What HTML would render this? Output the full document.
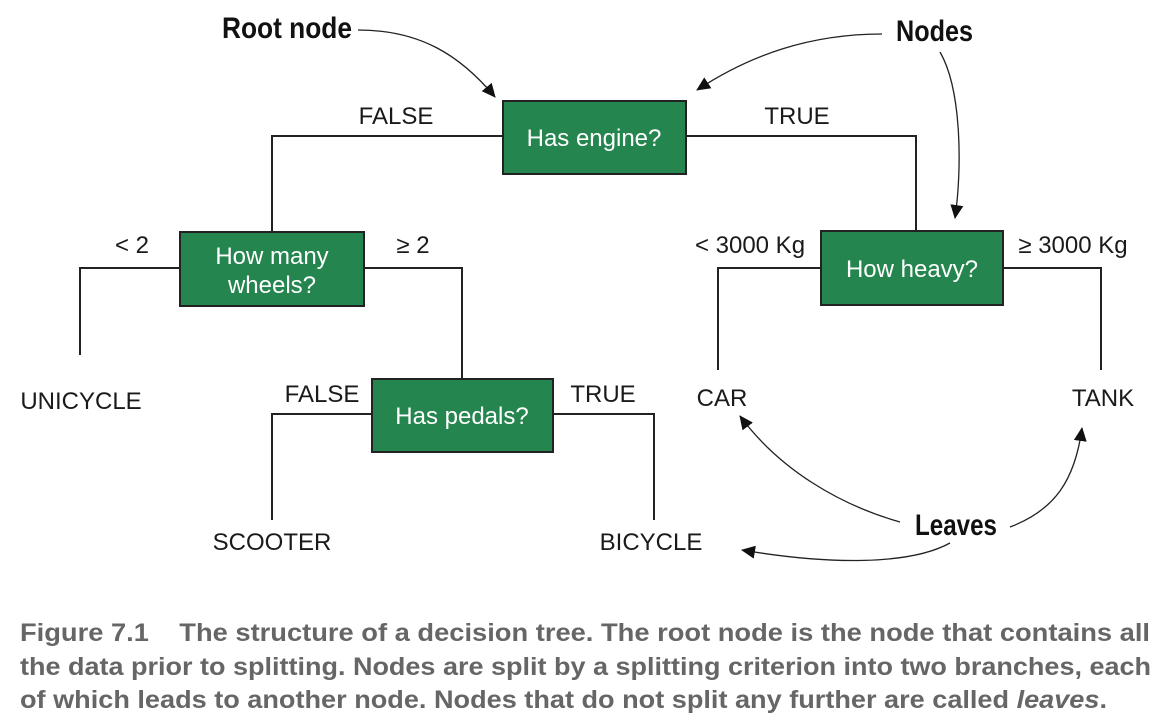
<!DOCTYPE html>
<html><head><meta charset="utf-8"><style>
html,body{margin:0;padding:0;background:#fff;}
svg{display:block;}
.l{font-family:"Liberation Sans",sans-serif;font-size:24px;fill:#1a1a1a;}
.b{font-family:"Liberation Sans",sans-serif;font-size:24px;fill:#fff;}
.a{font-family:"Liberation Sans Narrow","Liberation Sans",sans-serif;font-weight:bold;font-size:30px;fill:#111;}
.c{font-family:"Liberation Sans Narrow","Liberation Sans",sans-serif;font-weight:bold;font-size:25px;fill:#666;}
</style></head><body>
<svg width="1170" height="726" viewBox="0 0 1170 726" xmlns="http://www.w3.org/2000/svg">
<defs><marker id="ar" markerWidth="16" markerHeight="14" refX="13" refY="6.5" orient="auto" markerUnits="userSpaceOnUse"><path d="M0,0 L14,6.5 L0,13 Z" fill="#111"/></marker></defs>
<g fill="none" stroke="#222" stroke-width="2">
<path d="M503,136 H272 V232"/>
<path d="M686,136 H916 V231"/>
<path d="M180,268 H80 V355"/>
<path d="M364,268 H462 V379"/>
<path d="M372,414 H272 V520"/>
<path d="M553,414 H654 V520"/>
<path d="M820,268 H718 V370"/>
<path d="M1003,268 H1101 V370"/>
</g>
<g fill="#25854f" stroke="#222" stroke-width="2">
<rect x="503" y="101" width="183" height="73"/>
<rect x="180" y="232" width="184" height="74"/>
<rect x="372" y="379" width="181" height="73"/>
<rect x="821" y="231" width="182" height="74"/>
</g>
<g fill="none" stroke="#222" stroke-width="1.3" marker-end="url(#ar)">
<path d="M358,30 C420,30 460,55 495,97"/>
<path d="M882,34 C810,34 750,55 697,90"/>
<path d="M940,52 C962,90 962,170 955,218"/>
<path d="M900,522 C840,505 780,470 740,416"/>
<path d="M1010,527 C1055,510 1075,480 1082,428"/>
<path d="M950,543 C910,565 830,565 742,550"/>
</g>
<text class="b" x="594" y="146" text-anchor="middle">Has engine?</text>
<text class="b" x="272" y="264" text-anchor="middle">How many</text>
<text class="b" x="272" y="293" text-anchor="middle">wheels?</text>
<text class="b" x="462" y="424" text-anchor="middle">Has pedals?</text>
<text class="b" x="912" y="277" text-anchor="middle">How heavy?</text>
<text class="l" x="396" y="124" text-anchor="middle">FALSE</text>
<text class="l" x="797" y="124" text-anchor="middle">TRUE</text>
<text class="l" x="132" y="253" text-anchor="middle">&lt; 2</text>
<text class="l" x="413" y="253" text-anchor="middle">≥ 2</text>
<text class="l" x="750" y="253" text-anchor="middle">&lt; 3000 Kg</text>
<text class="l" x="1073" y="253" text-anchor="middle">≥ 3000 Kg</text>
<text class="l" x="322" y="402" text-anchor="middle">FALSE</text>
<text class="l" x="603" y="402" text-anchor="middle">TRUE</text>
<text class="l" x="81" y="409" text-anchor="middle">UNICYCLE</text>
<text class="l" x="722" y="406" text-anchor="middle">CAR</text>
<text class="l" x="1103" y="406" text-anchor="middle">TANK</text>
<text class="l" x="272" y="550" text-anchor="middle">SCOOTER</text>
<text class="l" x="651" y="550" text-anchor="middle">BICYCLE</text>
<text class="a" x="222" y="38" textLength="130" lengthAdjust="spacingAndGlyphs">Root node</text>
<text class="a" x="896" y="41" textLength="77" lengthAdjust="spacingAndGlyphs">Nodes</text>
<text class="a" x="915" y="535" textLength="82" lengthAdjust="spacingAndGlyphs">Leaves</text>
<text class="c" x="20" y="641" textLength="1130" lengthAdjust="spacingAndGlyphs">Figure 7.1&#160;&#160;&#160; The structure of a decision tree. The root node is the node that contains all</text>
<text class="c" x="20" y="675" textLength="1131" lengthAdjust="spacingAndGlyphs">the data prior to splitting. Nodes are split by a splitting criterion into two branches, each</text>
<text class="c" x="20" y="708" textLength="1087" lengthAdjust="spacingAndGlyphs">of which leads to another node. Nodes that do not split any further are called <tspan font-style="italic">leaves</tspan>.</text>
</svg>
</body></html>
